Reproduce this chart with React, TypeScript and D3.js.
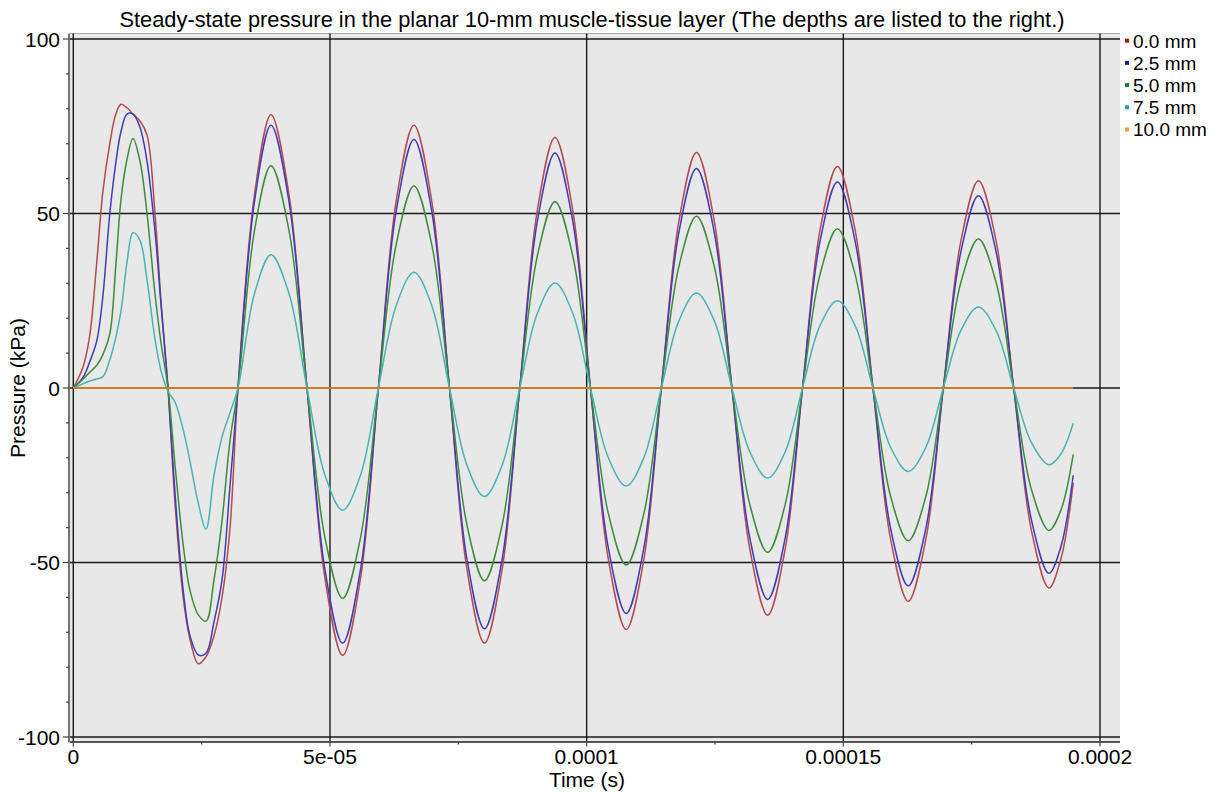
import React from "react";
import * as d3 from "d3";

const TITLE =
  "Steady-state pressure in the planar 10-mm muscle-tissue layer (The depths are listed to the right.)";
const X_LABEL = "Time (s)";
const Y_LABEL = "Pressure (kPa)";

// Sample times, in microseconds
const timeMicro = [
  0, 1.89, 3.2, 4.57, 5.74, 7.11, 8.28, 9.29, 10.46, 11.63, 12.99, 14.36, 15.91, 17.08,
  18.45, 19.81, 21.41, 22.73, 24.35, 25.85, 27.41, 28.97, 30.53, 32.08,
  35.3, 38.51, 42.01, 45.52, 49.01, 52.47, 55.96, 59.43, 62.89, 66.36, 69.83, 73.28,
  76.68, 80.09, 83.54, 86.97, 90.4, 93.83, 97.29, 100.74, 104.23, 107.71, 111.14, 114.55,
  117.98, 121.39, 124.85, 128.3, 131.79, 135.26, 138.67, 142.05, 145.44, 148.85, 152.32, 155.77,
  159.22, 162.64, 166.07, 169.48, 172.91, 176.32, 179.75, 183.19, 186.63, 190.05, 192.38, 194.78,
];

// Pressure (kPa) at each depth
const depth00 = [
  0, 6, 15, 36, 56, 70, 78.5, 81.3, 80.3, 78.5, 76.5, 72.5, 50, 25,
  0, -33, -60, -72, -79, -77, -71, -60, -40, 0,
  55.5, 78.3, 55.5, 0, -54.4, -76.6, -54.4, 0, 53.5, 75.3, 53.5, 0,
  -51.9, -73.1, -51.9, 0, 51, 71.8, 51, 0, -49.1, -69.2, -49.1, 0,
  47.9, 67.5, 47.9, 0, -46.2, -65.1, -46.2, 0, 45.1, 63.5, 45.1, 0,
  -43.4, -61.1, -43.4, 0, 42.2, 59.4, 42.2, 0, -40.7, -57.3, -49, -27.2,
];
const depth25 = [
  0, 3, 7.5, 13.5, 26, 50, 64.5, 73.5, 78.5, 78.5, 74.7, 65, 45, 24,
  0, -30, -58, -71, -76.5, -76, -67, -55, -28, 0,
  53.5, 75.3, 53.5, 0, -51.9, -73.1, -51.9, 0, 50.6, 71.2, 50.6, 0,
  -49, -69, -49, 0, 47.8, 67.3, 47.8, 0, -45.9, -64.6, -45.9, 0,
  44.7, 62.9, 44.7, 0, -43, -60.6, -43, 0, 41.9, 59, 41.9, 0,
  -40.3, -56.7, -40.3, 0, 39.1, 55.1, 39.1, 0, -37.7, -53.1, -45.5, -25,
];
const depth50 = [
  0, 2.5, 4.5, 6.5, 9.5, 15.5, 35, 54, 65.5, 71.5, 65, 50, 27, 13,
  0, -22, -45, -58, -65, -66.8, -55, -38, -15, 0,
  45.2, 63.7, 45.2, 0, -42.8, -60.3, -42.8, 0, 41.1, 57.9, 41.1, 0,
  -39.2, -55.2, -39.2, 0, 37.9, 53.4, 37.9, 0, -36, -50.7, -36, 0,
  34.9, 49.2, 34.9, 0, -33.4, -47.1, -33.4, 0, 32.4, 45.6, 32.4, 0,
  -31.1, -43.8, -31.1, 0, 30.3, 42.7, 30.3, 0, -29, -40.8, -35, -19,
];
const depth75 = [
  0, 1.2, 2, 2.6, 3.2, 8, 14.5, 22, 36, 44.5, 42.3, 31, 14, 5,
  -1, -4, -12, -21, -33, -40.5, -25, -14, -7, 0,
  27.1, 38.2, 27.1, 0, -24.9, -35, -24.9, 0, 23.6, 33.2, 23.6, 0,
  -22.1, -31.1, -22.1, 0, 21.4, 30.1, 21.4, 0, -20, -28.1, -20, 0,
  19.3, 27.2, 19.3, 0, -18.3, -25.8, -18.3, 0, 17.8, 25, 17.8, 0,
  -17, -23.9, -17, 0, 16.5, 23.2, 16.5, 0, -15.6, -22, -18.9, -10.1,
];
// The far boundary stays at zero for the whole run
const timeMicro100 = [0, 194.78];
const depth100 = [0, 0];

const depthLabels = ["0.0 mm", "2.5 mm", "5.0 mm", "7.5 mm", "10.0 mm"];
const lineColors = ["#b54a4e", "#3d3db8", "#3c8c3c", "#46b4b4", "#cc7c24"];
const legendColors = ["#a01a1a", "#1c1ca0", "#1c801c", "#1ea0a0", "#ff9a33"];

const xTicks = [0, 5e-5, 1e-4, 1.5e-4, 2e-4];
const xTickLabels = ["0", "5e-05", "0.0001", "0.00015", "0.0002"];
const xMinorTicks = [2.5e-5, 7.5e-5, 1.25e-4, 1.75e-4];
const yTicks = [-100, -50, 0, 50, 100];
const yTickLabels = ["-100", "-50", "0", "50", "100"];

const W = 1216;
const H = 792;
const FONT = "'Liberation Sans', Arial, Helvetica, sans-serif";

export default function App() {
  const x = d3.scaleLinear().domain([0, 2e-4]).range([73.3, 1100]);
  const y = d3.scaleLinear().domain([-100, 100]).range([737, 39]);

  const bgLeft = 70;
  const bgRight = 1120;
  const bgTop = 33.5;
  const bgBottom = 741.5;
  const axisX = 69;

  const line = d3
    .line<[number, number]>()
    .x((d) => x(d[0] * 1e-6))
    .y((d) => y(d[1]))
    .curve(d3.curveCatmullRom.alpha(0.5));

  const series = [
    { t: timeMicro, v: depth00 },
    { t: timeMicro, v: depth25 },
    { t: timeMicro, v: depth50 },
    { t: timeMicro, v: depth75 },
    { t: timeMicro100, v: depth100 },
  ];

  const yMinor = d3.range(-100, 101, 10).filter((v) => v % 50 !== 0);

  return (
    <svg
      width={W}
      height={H}
      style={{ position: "absolute", left: 0, top: 0, background: "#fff" }}
      fontFamily={FONT}
    >
      <text x={592} y={26.5} textAnchor="middle" fontSize={21.8} fill="#000">
        {TITLE}
      </text>

      {/* plot background */}
      <rect x={bgLeft} y={bgTop} width={bgRight - bgLeft} height={bgBottom - bgTop} fill="#e8e8e8" />
      <line x1={bgLeft} x2={bgRight} y1={bgTop} y2={bgTop} stroke="#a8a8a8" strokeWidth={1} />

      {/* grid */}
      {yTicks.map((v) => (
        <line key={"gy" + v} x1={bgLeft} x2={bgRight} y1={y(v)} y2={y(v)} stroke="#1a1a1a" strokeWidth={1.4} />
      ))}
      {xTicks.map((v) => (
        <line key={"gx" + v} x1={x(v)} x2={x(v)} y1={bgTop} y2={bgBottom} stroke="#1a1a1a" strokeWidth={1.4} />
      ))}

      {/* curves */}
      {series.map((s, i) => (
        <path
          key={"s" + i}
          d={line(s.t.map((t, j) => [t, s.v[j]] as [number, number])) || ""}
          fill="none"
          stroke={lineColors[i]}
          strokeWidth={i === 4 ? 2 : 1.5}
          strokeLinejoin="round"
        />
      ))}

      {/* y axis */}
      <line x1={axisX} x2={axisX} y1={bgTop} y2={bgBottom + 1} stroke="#444" strokeWidth={1.5} />
      {yTicks.map((v) => (
        <line key={"ty" + v} x1={axisX - 6} x2={axisX} y1={y(v)} y2={y(v)} stroke="#444" strokeWidth={1.2} />
      ))}
      {yMinor.map((v) => (
        <line key={"my" + v} x1={axisX - 3} x2={axisX} y1={y(v)} y2={y(v)} stroke="#444" strokeWidth={1.2} />
      ))}
      {yTicks.map((v, i) => (
        <text key={"ly" + v} x={60} y={y(v)} dy="0.36em" textAnchor="end" fontSize={21} fill="#000">
          {yTickLabels[i]}
        </text>
      ))}

      {/* x axis */}
      <line x1={bgLeft} x2={bgRight} y1={bgBottom + 0.5} y2={bgBottom + 0.5} stroke="#555" strokeWidth={1.8} />
      {xTicks.map((v) => (
        <line key={"tx" + v} x1={x(v)} x2={x(v)} y1={bgBottom} y2={bgBottom + 5} stroke="#444" strokeWidth={1.2} />
      ))}
      {xMinorTicks.map((v) => (
        <line key={"mx" + v} x1={x(v)} x2={x(v)} y1={bgBottom} y2={bgBottom + 3} stroke="#444" strokeWidth={1.2} />
      ))}
      {xTicks.map((v, i) => (
        <text key={"lx" + v} x={x(v)} y={763.5} textAnchor="middle" fontSize={21} fill="#000">
          {xTickLabels[i]}
        </text>
      ))}

      <text x={587} y={787} textAnchor="middle" fontSize={21} fill="#000">
        {X_LABEL}
      </text>
      <text
        transform={`translate(25, ${y(0)}) rotate(-90)`}
        textAnchor="middle"
        fontSize={21}
        fill="#000"
      >
        {Y_LABEL}
      </text>

      {/* legend */}
      {depthLabels.map((lab, i) => (
        <g key={"lg" + i} transform={`translate(0, ${40.7 + i * 22.2})`}>
          <rect x={1125} y={-2} width={4} height={4} fill={legendColors[i]} />
          <text x={1133} y={0} dy="0.36em" fontSize={19} fill="#000">
            {lab}
          </text>
        </g>
      ))}
    </svg>
  );
}
